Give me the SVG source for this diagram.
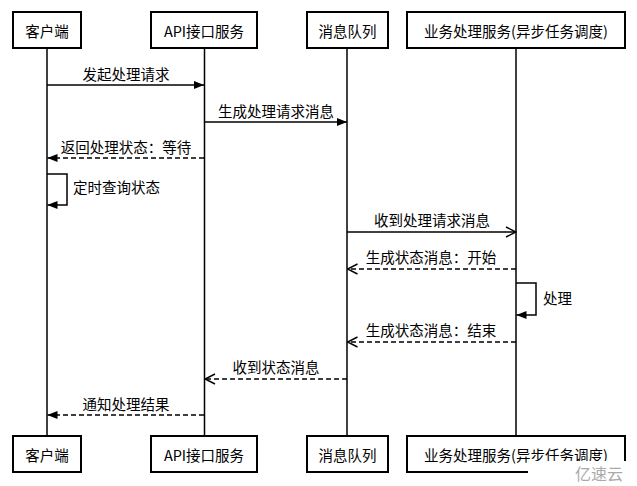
<svg xmlns="http://www.w3.org/2000/svg" width="637" height="486" viewBox="0 0 637 486">
<style>
.box{fill:#fff;stroke:#000;stroke-width:2}
.bt{font-family:"Noto Sans CJK SC","Liberation Sans",sans-serif;font-size:14.5px;fill:#000;text-anchor:middle;dominant-baseline:central}
.life{stroke:#000;stroke-width:1.5;fill:none}
.msg{stroke:#000;stroke-width:1.5;fill:none}
.dash{stroke-dasharray:5 3}
.lt{font-family:"Noto Sans CJK SC","Liberation Sans",sans-serif;font-size:14.5px;fill:#000}
.c{text-anchor:middle}
</style>
<defs>
<marker id="fill" viewBox="0 0 10 10" refX="10" refY="5" markerWidth="10" markerHeight="10" markerUnits="userSpaceOnUse" orient="auto">
<path d="M0,1 L10,5 L0,9 Z" fill="#000"/>
</marker>
<marker id="open" viewBox="0 0 12 12" refX="11" refY="6" markerWidth="12" markerHeight="12" markerUnits="userSpaceOnUse" orient="auto">
<path d="M1,1 L11,6 L1,11" fill="none" stroke="#000" stroke-width="1.5"/>
</marker>
</defs>
<g id="lifelines">
<line class="life" x1="47" y1="48" x2="47" y2="436"/>
<line class="life" x1="204.5" y1="48" x2="204.5" y2="436"/>
<line class="life" x1="347" y1="48" x2="347" y2="436"/>
<line class="life" x1="516" y1="48" x2="516" y2="436"/>
</g>
<g id="client-top"><rect class="box" x="13" y="12" width="68" height="36"/><text class="bt" x="47" y="30">客户端</text></g>
<g id="api-top"><rect class="box" x="151" y="12" width="106" height="36"/><text class="bt" x="204" y="30">API接口服务</text></g>
<g id="mq-top"><rect class="box" x="307" y="12" width="81" height="36"/><text class="bt" x="347.5" y="30">消息队列</text></g>
<g id="biz-top"><rect class="box" x="407" y="12" width="218" height="36"/><text class="bt" x="516" y="30">业务处理服务(异步任务调度)</text></g>
<g id="client-bottom"><rect class="box" x="13" y="436" width="68" height="36"/><text class="bt" x="47" y="454">客户端</text></g>
<g id="api-bottom"><rect class="box" x="151" y="436" width="106" height="36"/><text class="bt" x="204" y="454">API接口服务</text></g>
<g id="mq-bottom"><rect class="box" x="307" y="436" width="81" height="36"/><text class="bt" x="347.5" y="454">消息队列</text></g>
<g id="biz-bottom"><rect class="box" x="407" y="436" width="218" height="36"/><text class="bt" x="516" y="454">业务处理服务(异步任务调度)</text></g>
<g id="connectors">
<line class="msg" x1="47" y1="85" x2="204" y2="85" marker-end="url(#fill)"/>
<line class="msg" x1="204.5" y1="122" x2="347" y2="122" marker-end="url(#fill)"/>
<line class="msg dash" x1="204" y1="158" x2="47.5" y2="158" marker-end="url(#fill)"/>
<polyline class="msg" points="47,174 67,174 67,205 47.5,205" marker-end="url(#fill)"/>
<line class="msg" x1="347" y1="232" x2="516" y2="232" marker-end="url(#open)"/>
<line class="msg dash" x1="516" y1="269" x2="347.5" y2="269" marker-end="url(#open)"/>
<polyline class="msg" points="516,283 536,283 536,315 516.5,315" marker-end="url(#fill)"/>
<line class="msg dash" x1="516" y1="342" x2="347.5" y2="342" marker-end="url(#open)"/>
<line class="msg dash" x1="347" y1="379" x2="205" y2="379" marker-end="url(#open)"/>
<line class="msg dash" x1="204" y1="415" x2="47.5" y2="415" marker-end="url(#fill)"/>
</g>
<g id="labels">
<text class="lt c" x="126" y="80">发起处理请求</text>
<text class="lt c" x="276" y="117">生成处理请求消息</text>
<text class="lt c" x="126" y="153">返回处理状态：等待</text>
<text class="lt" x="73" y="193">定时查询状态</text>
<text class="lt c" x="432" y="226">收到处理请求消息</text>
<text class="lt c" x="431" y="263">生成状态消息：开始</text>
<text class="lt" x="543" y="304">处理</text>
<text class="lt c" x="431" y="336">生成状态消息：结束</text>
<text class="lt c" x="276" y="373">收到状态消息</text>
<text class="lt c" x="126" y="410">通知处理结果</text>
</g>
<g id="watermark">
<rect x="528" y="461" width="109" height="25" fill="#fff"/>
<text x="575" y="480" font-family="'Noto Sans CJK SC',sans-serif" font-size="16" fill="#aaa">亿速云</text>
</g>
</svg>
